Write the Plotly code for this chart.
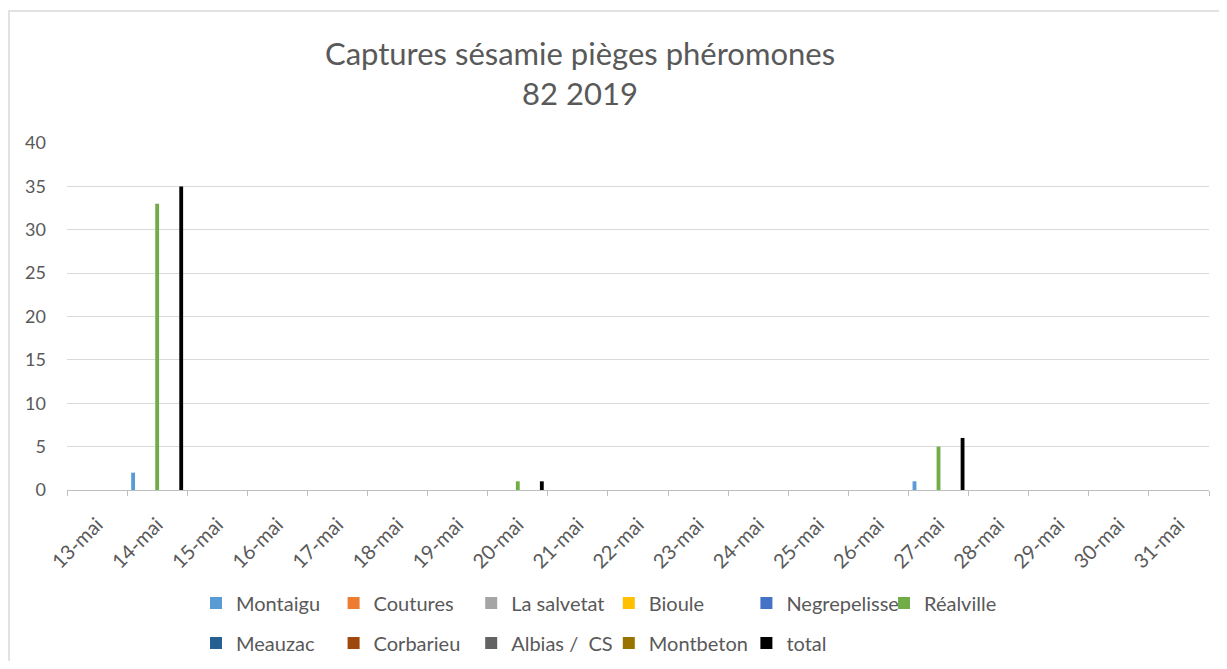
import plotly.graph_objects as go

dates = ["13-mai", "14-mai", "15-mai", "16-mai", "17-mai", "18-mai", "19-mai",
         "20-mai", "21-mai", "22-mai", "23-mai", "24-mai", "25-mai", "26-mai",
         "27-mai", "28-mai", "29-mai", "30-mai", "31-mai"]

montaigu     = [None, 2, None, None, None, None, None, 0, None, None, None, None, None, None, 1, None, None, None, None]
coutures     = [None, 0, None, None, None, None, None, 0, None, None, None, None, None, None, 0, None, None, None, None]
la_salvetat  = [None, 0, None, None, None, None, None, 0, None, None, None, None, None, None, 0, None, None, None, None]
bioule       = [None, 0, None, None, None, None, None, 0, None, None, None, None, None, None, 0, None, None, None, None]
negrepelisse = [None, 0, None, None, None, None, None, 0, None, None, None, None, None, None, 0, None, None, None, None]
realville    = [None, 33, None, None, None, None, None, 1, None, None, None, None, None, None, 5, None, None, None, None]
meauzac      = [None, 0, None, None, None, None, None, 0, None, None, None, None, None, None, 0, None, None, None, None]
corbarieu    = [None, 0, None, None, None, None, None, 0, None, None, None, None, None, None, 0, None, None, None, None]
albias_cs    = [None, 0, None, None, None, None, None, 0, None, None, None, None, None, None, 0, None, None, None, None]
montbeton    = [None, 0, None, None, None, None, None, 0, None, None, None, None, None, None, 0, None, None, None, None]
total        = [None, 35, None, None, None, None, None, 1, None, None, None, None, None, None, 6, None, None, None, None]

series_names = ["Montaigu", "Coutures", "La salvetat", "Bioule", "Negrepelisse", "Réalville",
                "Meauzac", "Corbarieu", "Albias /  CS", "Montbeton", "total"]
series_values = [montaigu, coutures, la_salvetat, bioule, negrepelisse, realville,
                 meauzac, corbarieu, albias_cs, montbeton, total]
series_colors = ["#5B9BD5", "#ED7D31", "#A5A5A5", "#FFC000", "#4472C4", "#70AD47",
                 "#255E91", "#9E480E", "#636363", "#997300", "#000000"]

FONT = "Lato"
TXT = "#595959"

fig = go.Figure()
for i, (name, vals, col) in enumerate(zip(series_names, series_values, series_colors)):
    fig.add_trace(go.Bar(
        x=dates, y=vals, name=name, marker=dict(color=col, line=dict(width=0)),
        legend="legend" if i < 6 else "legend2",
    ))

# page has an 8px body margin: figure origin sits at page (8, 8)
OFF = 8
W, H = 1227 - 2 * OFF, 669 - 2 * OFF
# plot area in page pixels: x 67..1209, y 143..490
L = 67 - OFF
T = 143 - OFF
R = W - (1209 - OFF)
B = H - (490 - OFF)
pw, ph = W - L - R, H - T - B

def px_x(page_px):
    return (page_px - OFF - L) / pw

def px_y(page_py):
    return (H - B - (page_py - OFF)) / ph

legend_common = dict(
    orientation="h", xanchor="left", yanchor="middle",
    entrywidth=92.6, entrywidthmode="pixels",
    font=dict(size=20, color=TXT, family=FONT),
    bgcolor="rgba(0,0,0,0)", traceorder="normal",
)

fig.update_layout(
    width=W, height=H,
    margin=dict(l=L, r=R, t=T, b=B, autoexpand=False),
    paper_bgcolor="white", plot_bgcolor="white",
    barmode="group", bargap=0.12, bargroupgap=0.2,
    font=dict(family=FONT, color=TXT, size=18),
    title=dict(
        text="Captures sésamie pièges phéromones<br>82 2019",
        x=(580 - OFF) / W, xanchor="center", xref="container",
        y=1 - 57 / H, yanchor="top", yref="container",
        font=dict(family=FONT, size=31, color=TXT),
    ),
    xaxis=dict(
        type="category", tickson="boundaries", ticks="outside", ticklen=5,
        tickcolor="#BFBFBF", showgrid=False, showline=True, linecolor="#BFBFBF",
        linewidth=1, tickangle=-45, ticklabelstandoff=14,
        tickfont=dict(size=20, color=TXT, family=FONT),
    ),
    yaxis=dict(
        range=[0, 40], dtick=5, showgrid=True, gridcolor="#D9D9D9", gridwidth=1,
        zeroline=False, showline=False, ticks="", ticklabelstandoff=20,
        tickfont=dict(size=18, color=TXT, family=FONT),
    ),
    legend=dict(x=px_x(196), y=px_y(603), **legend_common),
    legend2=dict(x=px_x(196), y=px_y(643), **legend_common),
    shapes=[dict(
        type="rect", xref="paper", yref="paper",
        x0=px_x(9), x1=px_x(1260), y0=px_y(700), y1=px_y(11),
        line=dict(color="#D9D9D9", width=1.5), fillcolor="rgba(0,0,0,0)", layer="below",
    )],
)

fig.write_html("out.html")
